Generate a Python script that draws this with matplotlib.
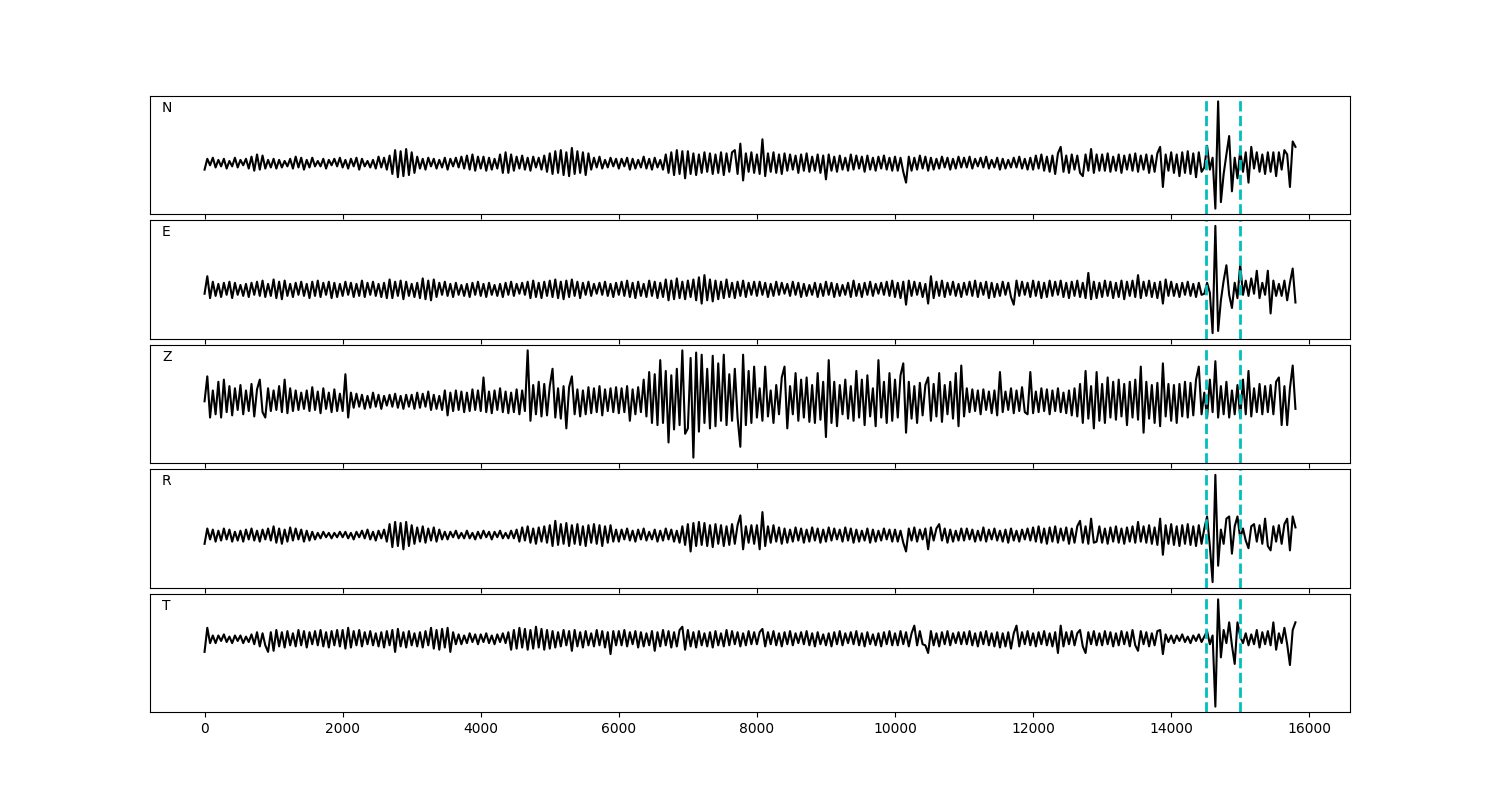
import numpy as np
import matplotlib
matplotlib.use("Agg")
import matplotlib.pyplot as plt

# sample spacing of the traces (same for all channels)
dt = 40
picks = [14500, 15000]  # dashed window
channels = ["N", "E", "Z", "R", "T"]

# amplitudes, one row per 1000 units
N = [
    -6, 4, -2, 5, -4, 3, -3, 4, -5, 2, -3, 5, -4, 3, -2, 4, -5, 6, -7, 8, -6, 7, -5, 3, -4,
    4, -5, 3, -4, 2, -3, 4, -5, 6, -4, 5, -6, 3, -4, 5, -3, 2, -3, 4, -5, 3, -2, 4, -3, 5,
    -4, 3, -5, 4, -3, 5, -6, 4, -3, 2, -4, 3, -5, 6, -4, 5, -6, 7, -10, 12, -13, 11, -12, 13, -11,
    10, -9, 6, -5, 4, -6, 5, -3, 4, -5, 3, -4, 5, -6, 4, -3, 5, -4, 6, -5, 7, -6, 8, -7, 6,
    -5, 6, -7, 5, -6, 4, -5, 8, -9, 10, -9, 8, -7, 6, -5, 7, -6, 5, -7, 6, -4, 5, -6, 7, -8,
    9, -10, 11, -9, 12, -11, 10, -12, 14, -10, 11, -9, 10, -11, 9, -6, 5, -4, 6, -5, 3, -4, 5, -3, 4,
    -5, 4, -3, 5, -6, 4, -5, 3, -4, 6, -5, 4, -6, 5, -4, 3, -6, 8, -9, 10, -11, 12, -10, 11, -14,
    11, -10, 9, -11, 8, -9, 10, -8, 9, -10, 8, -9, 10, -11, 9, -8, 10, 12, -10, 18, -16, 9, -8, 10, -9,
    8, -10, 22, -12, 9, -8, 10, -9, 8, -10, 9, -7, 8, -6, 7, -9, 8, -7, 9, -8, 6, -7, 8, -9, 7,
    -15, 8, -7, 6, -8, 7, -6, 5, -7, 8, -6, 7, -5, 6, -8, 7, -6, 5, -7, 6, -5, 7, -6, 5, -7,
    6, -7, 5, -8, -18, 6, -7, 5, -6, 7, -5, 6, -7, 5, -6, 4, -5, 6, -4, 5, -6, 4, -5, 6, -4,
    5, -4, 6, -5, 4, -3, 5, -4, 6, -5, 3, -4, 5, -6, 4, -5, 3, -4, 5, -4, 6, -5, 4, -6, 5,
    -6, 7, -5, 8, -7, 6, -8, 7, -10, 9, 15, -8, 7, -9, 8, -6, 7, -9, -12, 8, -7, 13, -9, 8, -7,
    8, -7, 9, -8, 6, -7, 8, -9, 7, -6, 8, -7, 9, -8, 7, -6, 8, -9, 7, -8, 9, 15, -22, 8, -7,
    10, -9, 8, -12, 10, -9, 11, -10, 9, -13, 10, -8, -4, 16, -6, 5, -42, 57, -36, -10, 8, 25, -26, 5, -14,
    12, -8, 10, -18, 15, -5, 10, -8, 8, -10, 10, -8, 10, -12, 10, -6, 12, 8, -22, 20, 15,
]

E = [
    -4, 12, -8, 7, -6, 5, -7, 6, -5, 7, -8, 6, -5, 4, -6, 5, -7, 6, -5, 7, -6, 8, -7, 5, -6,
    9, -8, 7, -9, 8, -6, 5, -7, 6, -5, 7, -6, 5, -8, 7, -6, 8, -7, 6, -5, 7, -8, 6, -7, 5,
    -6, 7, -5, 6, -7, 5, -6, 8, -7, 6, -5, 7, -6, 5, -7, 6, -8, 9, -8, 7, -6, 8, -9, 7, -6,
    5, -7, 6, -8, 10, -9, 8, -10, 9, -7, 6, -5, 7, -6, 5, -7, 6, -5, 4, -6, 5, -7, 6, -5, 7,
    -6, 5, -7, 6, -5, 4, -6, 5, -7, 6, -5, 7, -6, 5, -4, 6, -5, 7, -8, 8, -7, 6, -8, 7, -6,
    8, -7, 9, -8, 7, -9, 8, -7, 9, -6, 7, -8, 6, -5, 7, -6, 5, -4, 6, -5, 7, -6, 5, -7, 6,
    -5, 7, -6, 8, -7, 6, -8, 7, -6, 5, -7, 8, -6, 7, -8, 6, -7, 9, -10, 8, -9, 10, -8, 7, -9,
    8, -7, 9, -10, 11, -13, 13, -10, 9, -11, 8, -9, 7, -8, 9, -7, 6, -8, 7, -6, 8, -7, 6, -5, 7,
    -6, 7, -5, 6, -7, 5, -6, 7, -5, 6, -4, 5, -6, 7, -5, 6, -7, 5, -6, 4, -5, 6, -7, 5, -6,
    7, -5, 6, -7, 5, -6, 4, -5, 6, -7, 8, -6, 5, -7, 6, -5, 7, -6, 5, -4, 6, -5, 7, -6, 8,
    -7, 6, -8, 7, -14, 8, -6, 7, -5, 6, -7, 5, -13, 12, -8, 7, -6, 8, -7, 6, -5, 7, -6, 5, -7,
    6, -5, 7, -6, 8, -7, 6, -5, 7, -8, 6, -7, 5, -6, 7, -5, 6, -7, -14, 8, -6, 7, -5, 6, -7,
    8, -6, 7, -8, 6, -7, 8, -6, 7, -5, 8, -7, 6, -8, 7, -6, 8, -7, 6, -8, 15, -9, 7, -8, 6,
    -7, 8, -6, 7, -8, 6, -7, 8, -9, 7, -6, 8, -7, 13, -8, 7, -6, 8, -7, 6, -8, 7, -13, 9, -6,
    7, -6, 5, -7, 6, -5, 7, -6, 5, -7, 6, -5, -4, 6, -3, -40, 58, -38, -10, 8, 22, -5, -17, 6, -8,
    23, -5, 8, -6, 10, -4, 17, -8, 6, -5, 17, -22, 8, -6, 5, -6, 8, -10, 6, 19, -12,
]

Z = [
    0, 23, -15, 10, -12, 18, -15, 20, -10, 14, -13, 12, -8, 15, -12, 10, -9, 16, -14, 11, 20, -10, -15, 12, -9,
    10, -8, 14, -10, 20, -11, 12, -9, 10, -8, 8, -7, 10, -9, 13, -8, 9, -11, 12, -7, 8, -10, 11, -9, 7,
    -9, 25, -15, 8, -6, 7, -5, 6, -7, 5, -6, 8, -5, 6, -7, 5, -4, 6, -5, 7, -6, 5, -7, 6, -5,
    6, -7, 8, -6, 7, -5, 9, -8, 6, -7, 5, -8, 10, -13, 8, -9, 10, -8, 9, -10, 8, -9, 11, -8, 10,
    -9, 22, -10, 9, -11, 10, -8, 12, -10, 9, -11, 8, -10, 11, -12, 10, -9, 47, -18, 15, -12, 18, -14, 16, -13,
    14, 30, -15, 12, -16, 14, -25, 13, 23, -12, 11, -14, 10, -12, 13, -11, 12, -10, 14, -13, 11, -9, 12, -10, 13,
    -11, 12, -10, 14, -18, 11, -12, 13, -10, 20, -14, 27, -20, 25, -22, 38, -20, 28, -38, 24, -26, 30, -22, 47, -30,
    -25, 40, -52, 45, -28, 43, -20, 30, -25, 42, -23, 35, -18, 43, -22, 25, -18, 30, -15, -42, 43, -22, 28, -20, 32,
    -15, 12, -18, 32, -14, 10, -20, 15, -12, 22, 32, -25, 14, -12, 26, -18, 20, -15, 22, -19, 15, -20, 26, -17, 18,
    -33, 38, -20, 18, -23, 15, -12, 20, -16, 14, -18, 28, -15, 20, -22, 24, -14, 12, -23, 38, -15, 18, -20, 26, -18,
    20, -15, 24, 35, -29, 18, -16, 14, -20, 17, -13, 15, 22, -18, 16, -14, 26, -19, 15, -12, 18, -16, 26, -23, 33,
    -14, 12, -10, 11, -9, 10, -12, 11, -8, 9, -11, 10, -13, 27, -10, 9, -8, 12, -11, 10, -9, 13, -10, -12, 27,
    -11, 9, -10, 12, -9, 11, -12, 10, -9, 12, -10, 8, -11, 10, -13, 12, -14, 16, -20, 28, -16, 14, -25, 27, -18,
    16, -20, 22, -15, 18, -17, 20, -14, 16, -22, 18, -15, 20, -17, 32, -29, 18, -16, 15, -20, 17, -23, 35, -14, 16,
    -18, 15, -20, 16, -14, 18, -15, 17, -13, 20, 32, -12, 8, -15, 20, -10, 37, -15, 14, -12, 18, -15, 10, -12, 15,
    -15, 20, -12, 28, -14, 12, -10, 16, -12, 14, -10, 15, -12, 18, 22, -22, 14, -22, 12, 33, -7,
]

R = [
    -8, 6, -4, 5, -6, 4, -5, 6, -4, 5, -6, 3, -5, 4, -6, 5, -4, 6, -5, 4, -6, 5, -4, 6, -5,
    8, -7, 6, -8, 5, -6, 7, -5, 6, -4, 5, -6, 4, -5, 3, -4, 2, -3, 3, -2, 2, -3, 2, -2, 3,
    -2, 3, -3, 2, -4, 3, -2, 4, -3, 5, -4, 3, -5, 4, -3, 5, -6, 10, -11, 12, -10, 11, -13, 12, -10,
    9, -8, 7, -6, 8, -7, 6, -5, 7, -6, 5, -4, 3, -4, 3, -2, 4, -3, 2, -3, 4, -3, 2, -4, 3,
    -3, 4, -2, 3, -4, 3, -2, 4, -3, 2, -3, 4, -3, 5, -6, 7, -5, 8, -7, 6, -8, 7, -6, 8, -7,
    9, -10, 13, -9, 10, -8, 11, -10, 9, -8, 10, -9, 8, -10, 9, -7, 10, -8, 9, -10, 8, -7, 9, -6, 5,
    -6, 5, -4, 6, -5, 4, -6, 5, -4, 6, -5, 3, -4, 5, -6, 4, -5, 6, -4, 5, -6, 4, -7, 8, -9,
    10, -15, 11, -10, 12, -9, 11, -10, 9, -11, 10, -8, 9, -10, 8, -9, 10, -8, 9, 18, -13, 8, -7, 9, -8,
    9, -13, 21, -10, 8, -7, 9, -6, 7, -8, 6, -7, 5, -6, 7, -5, 6, -7, 5, -6, 7, -5, 6, -7, 5,
    -6, 7, -5, 6, -4, 5, -6, 7, -5, 6, -7, 5, -6, 4, -5, 6, -7, 5, -6, 4, -5, 6, -4, 5, -6,
    5, -6, 4, -7, -15, 6, -5, 7, -6, 5, -4, 6, -13, 7, -5, 6, 10, -5, 6, -7, 5, -6, 4, -5, 6,
    -5, 6, -4, 5, -6, 4, -5, 7, -6, 5, -4, 6, -5, 4, -6, 5, -7, 6, -5, 4, -6, 5, -4, 6, -5,
    7, -6, 8, -7, 6, -8, 7, -6, 8, -7, 6, -5, 7, -8, 6, -7, 8, 13, -7, 8, -8, 15, -7, -6, 8,
    -7, 6, -8, 7, -6, 8, -7, 6, -8, 7, -6, 8, -7, 12, -6, 8, -7, 9, -8, 7, -9, 15, -18, 9, -8,
    10, -9, 8, -10, 9, -8, 10, -9, 8, -10, 9, -8, 6, 17, -10, -43, 55, -28, 5, -8, 15, 17, -17, 8, 17,
    -3, 6, -5, -12, 8, 10, -6, 9, -8, 15, -10, -14, 8, -6, 9, -8, 10, 15, -14, 17, 7,
]

T = [
    -12, 10, -4, 3, -4, 3, -2, 4, -3, 2, -4, 3, -2, 3, -4, 2, -3, 4, -5, 6, -7, 5, -6, -12, 6,
    -11, 8, -7, 6, -8, 7, -6, 5, -7, 8, -6, 7, -8, 6, -5, 7, -6, 8, -7, 6, -8, 7, -6, 8, -7,
    8, -9, 10, -8, 7, -6, 8, -7, 6, -5, 7, -6, 5, -7, 6, -8, 7, -6, 8, -12, 9, -7, 6, -8, 7,
    -6, 5, -7, 6, -8, 7, -6, 10, -9, 8, -10, 9, -8, 10, -12, 6, -5, 4, -5, 3, -4, 5, -3, 4, -5,
    4, -3, 5, -4, 3, -5, 4, -3, 5, -4, 6, -10, 8, -9, 10, -8, 9, -10, 8, -9, 11, -8, 9, -10, 8,
    -9, 7, -8, 6, -7, 8, -6, 7, -11, 8, -7, 6, -8, 7, -6, 5, -7, 8, -6, 7, -8, 6, -14, 7, -6,
    7, -6, 8, -7, 6, -5, 7, -8, 6, -7, 5, -6, 7, -11, 6, -7, 8, -6, 7, -8, 6, -7, 8, 11, -10,
    8, -7, 6, -8, 7, -6, 5, -7, 6, -8, 7, -6, 5, -7, 8, -6, 7, -5, 6, -7, 5, -6, 7, -5, 6,
    -5, 6, 9, -7, 6, -5, 7, -6, 5, -7, 6, -5, 7, -6, 5, -4, 6, -5, 7, -6, 5, -7, 6, -5, 4,
    -6, 5, -7, 6, -5, 7, -6, 5, -4, 6, -5, 7, -6, 5, -7, 6, -5, 4, -6, 5, -7, 6, -5, 7, -6,
    5, -6, 7, -5, 6, -7, 5, 12, -6, 7, -5, -6, -13, 7, -6, 5, -7, 6, -5, 7, -6, 5, -4, 6, -5,
    6, -5, 7, -6, 5, -7, 6, -5, 7, -6, 5, -7, 6, -8, 5, -7, 6, -9, 5, 12, -7, 6, -5, 7, -6,
    5, -7, 6, -5, 7, -6, 5, -7, 6, -13, 12, -7, 6, -5, 7, -6, 5, 8, -7, -13, 6, -5, 7, -6, 5,
    -6, 7, -5, 6, -7, 5, -6, 7, -5, 6, -7, 8, -6, -11, 7, -5, 6, -7, 5, -6, 7, 8, -14, 4, -3,
    3, -4, 3, -2, 4, -3, 2, -4, 3, -2, 4, -3, 2, 7, -5, 3, -62, 36, -17, 8, -4, 15, -6, -23, 15,
    2, -4, 5, -6, 4, -5, 8, -8, 6, -5, 7, -6, 15, -10, 5, -4, 10, -5, -24, 8, 15,
]

traces = [N, E, Z, R, T]

fig, axes = plt.subplots(5, 1, figsize=(15, 8), dpi=100, sharex=True)
fig.subplots_adjust(left=0.1, right=0.9, top=0.88, bottom=0.11, hspace=0.055)

for ax, name, tr in zip(axes, channels, traces):
    tr = np.array(tr, dtype=float)
    t = np.arange(len(tr)) * dt
    ax.plot(t, tr, color='k', lw=1.5)
    for p in picks:
        ax.axvline(p, color='c', ls='--', lw=2)
    ax.text(0.01, 0.9, name, transform=ax.transAxes, ha='left', va='center')
    ax.set_yticks([])

plt.savefig('out.png')
